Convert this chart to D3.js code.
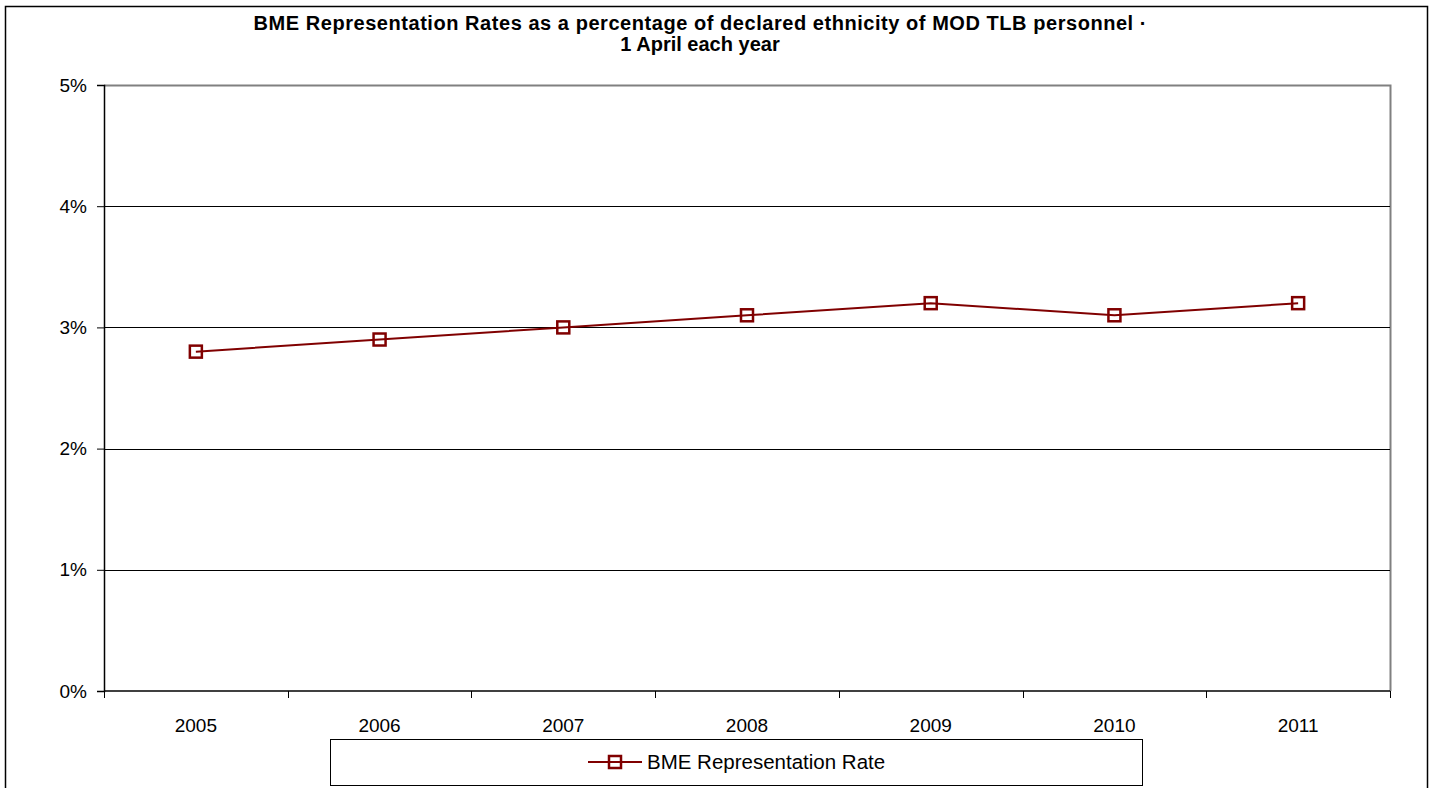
<!DOCTYPE html>
<html>
<head>
<meta charset="utf-8">
<script src="https://cdn.jsdelivr.net/npm/d3@7/dist/d3.min.js"></script>
<style>
  html, body { margin: 0; padding: 0; background: #fff; }
  svg { display: block; font-family: "Liberation Sans", Arial, sans-serif; }
</style>
</head>
<body>
<svg id="chart" width="1429" height="788"></svg>
<script>
// Data
const years = ["2005", "2006", "2007", "2008", "2009", "2010", "2011"];
const rates = [2.8, 2.9, 3.0, 3.1, 3.2, 3.1, 3.2];
const yTicks = [0, 1, 2, 3, 4, 5];
const titleLines = [
  "BME Representation Rates as a percentage of declared ethnicity of MOD TLB personnel \u00b7",
  "1 April each year"
];
const seriesName = "BME Representation Rate";

const svg = d3.select("#chart");
const plot = { left: 104, right: 1390, top: 85, bottom: 691 };
const lineColor = "#800000";

// Outer chart frame (bottom edge runs off the page)
svg.append("rect")
  .attr("x", 5.5).attr("y", 6.5)
  .attr("width", 1422).attr("height", 800)
  .attr("fill", "#fff").attr("stroke", "#000").attr("stroke-width", 1.5);

// Title
const title = svg.append("text")
  .attr("text-anchor", "middle")
  .attr("font-weight", "bold")
  .attr("font-size", 20)
  .attr("fill", "#000");
titleLines.forEach((t, i) => {
  const ts = title.append("tspan").attr("x", 700).attr("y", 30 + i * 21).text(t);
  if (i === 0) ts.attr("textLength", 893).attr("lengthAdjust", "spacing");
});

// Scales
const x = d3.scaleBand().domain(years).range([plot.left, plot.right]).padding(0);
const y = d3.scaleLinear().domain([0, 5]).range([plot.bottom, plot.top]);

// Plot area border (grey top/right)
svg.append("path")
  .attr("d", `M${plot.left},${plot.top + 0.5}H${plot.right + 0.5}V${plot.bottom}`)
  .attr("fill", "none").attr("stroke", "#808080").attr("stroke-width", 2);

// Gridlines
svg.append("g")
  .selectAll("line")
  .data(yTicks.filter(d => d > 0 && d < 5))
  .join("line")
  .attr("x1", plot.left).attr("x2", plot.right)
  .attr("y1", d => Math.round(y(d)) + 0.5).attr("y2", d => Math.round(y(d)) + 0.5)
  .attr("stroke", "#000").attr("stroke-width", 1);

// Y axis
const yAxis = d3.axisLeft(y)
  .tickValues(yTicks)
  .tickFormat(d => d + "%")
  .tickSize(7)
  .tickPadding(10);
const gy = svg.append("g")
  .attr("transform", `translate(${plot.left},0)`)
  .call(yAxis);
gy.select(".domain").attr("stroke", "#000").attr("stroke-width", 1.5);
gy.selectAll(".tick line").attr("stroke", "#000");
gy.selectAll(".tick text")
  .attr("font-size", 19).attr("fill", "#000")
  .attr("font-family", "'Liberation Sans', Arial, sans-serif");

// X axis: ticks at category boundaries, labels centred under each category
const gx = svg.append("g").attr("transform", `translate(0,${plot.bottom})`);
gx.append("line")
  .attr("x1", plot.left).attr("x2", plot.right)
  .attr("y1", 0).attr("y2", 0)
  .attr("stroke", "#000").attr("stroke-width", 1.5);
const boundaries = years.map(d => x(d)).concat([x(years[years.length - 1]) + x.bandwidth()]);
gx.selectAll("line.tk")
  .data(boundaries)
  .join("line").attr("class", "tk")
  .attr("x1", d => Math.round(d) + 0.5).attr("x2", d => Math.round(d) + 0.5)
  .attr("y1", 0).attr("y2", 7)
  .attr("stroke", "#000");
gx.selectAll("text")
  .data(years)
  .join("text")
  .attr("x", d => x(d) + x.bandwidth() / 2)
  .attr("y", 41)
  .attr("text-anchor", "middle")
  .attr("font-size", 19)
  .attr("fill", "#000")
  .text(d => d);

// Series line
const pts = years.map((d, i) => ({ year: d, value: rates[i] }));
const line = d3.line()
  .x(d => x(d.year) + x.bandwidth() / 2)
  .y(d => y(d.value));
svg.append("path")
  .datum(pts)
  .attr("d", line)
  .attr("fill", "none")
  .attr("stroke", lineColor)
  .attr("stroke-width", 2);

// Square markers
const ms = 12;
svg.append("g")
  .selectAll("rect")
  .data(pts)
  .join("rect")
  .attr("x", d => x(d.year) + x.bandwidth() / 2 - ms / 2)
  .attr("y", d => y(d.value) - ms / 2)
  .attr("width", ms).attr("height", ms)
  .attr("fill", "none")
  .attr("stroke", lineColor)
  .attr("stroke-width", 2.5);

// Legend
const lg = svg.append("g");
lg.append("rect")
  .attr("x", 330.5).attr("y", 739.5)
  .attr("width", 812).attr("height", 46)
  .attr("fill", "#fff").attr("stroke", "#000").attr("stroke-width", 1);
lg.append("line")
  .attr("x1", 588).attr("x2", 642)
  .attr("y1", 762).attr("y2", 762)
  .attr("stroke", lineColor).attr("stroke-width", 2);
lg.append("rect")
  .attr("x", 615 - ms / 2).attr("y", 762 - ms / 2)
  .attr("width", ms).attr("height", ms)
  .attr("fill", "none").attr("stroke", lineColor).attr("stroke-width", 2.5);
lg.append("text")
  .attr("x", 647).attr("y", 769)
  .attr("font-size", 20.5).attr("fill", "#000")
  .text(seriesName);
</script>
</body>
</html>
